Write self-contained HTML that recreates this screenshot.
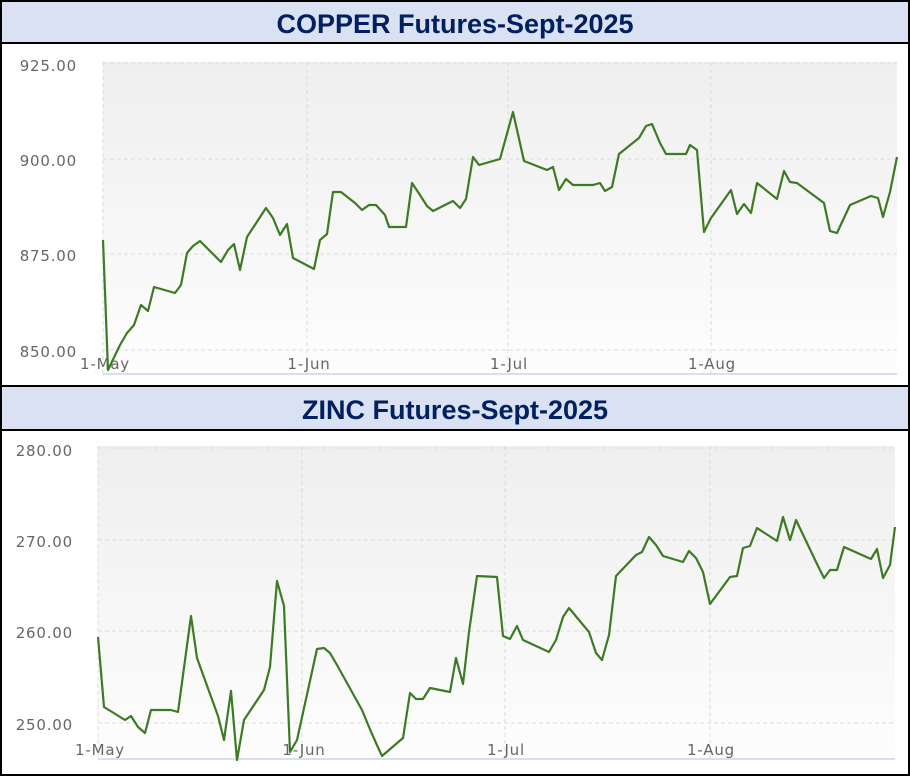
<!DOCTYPE html>
<html><head><meta charset="utf-8"><style>
html,body{margin:0;padding:0;background:#fff;}
body{width:910px;height:776px;overflow:hidden;}
svg{display:block;font-family:"Liberation Sans",sans-serif;}
.lbl{font-family:"DejaVu Sans",sans-serif;letter-spacing:0.8px;}
</style></head><body>
<svg width="910" height="776" viewBox="0 0 910 776">
<defs>
<linearGradient id="g" x1="0" y1="0" x2="0" y2="1">
<stop offset="0" stop-color="#efefef"/><stop offset="1" stop-color="#fdfdfd"/>
</linearGradient>
</defs>
<rect x="0" y="0" width="910" height="776" fill="#fff"/>
<rect x="1" y="1" width="908" height="42" fill="#d9e1f2"/>
<rect x="1" y="387" width="908" height="43" fill="#d9e1f2"/>
<text x="455" y="33" text-anchor="middle" font-size="27" font-weight="bold" fill="#002060">COPPER Futures-Sept-2025</text>
<text x="455" y="419" text-anchor="middle" font-size="27" font-weight="bold" fill="#002060">ZINC Futures-Sept-2025</text>
<line x1="0" y1="43" x2="910" y2="43" stroke="#000" stroke-width="2"/>
<line x1="0" y1="386" x2="910" y2="386" stroke="#000" stroke-width="2"/>
<line x1="0" y1="430" x2="910" y2="430" stroke="#000" stroke-width="2"/>
<rect x="1" y="1" width="908" height="774" fill="none" stroke="#000" stroke-width="2"/>

<rect x="103" y="62" width="794" height="312" fill="url(#g)"/>
<g stroke="#dcdcdc" stroke-dasharray="4,3" stroke-width="1">
<line x1="103" y1="63" x2="897" y2="63"/><line x1="103" y1="159" x2="897" y2="159"/>
<line x1="103" y1="254" x2="897" y2="254"/><line x1="103" y1="350" x2="897" y2="350"/>
<line x1="103" y1="62" x2="103" y2="374"/><line x1="307" y1="62" x2="307" y2="374"/>
<line x1="508" y1="62" x2="508" y2="374"/><line x1="711" y1="62" x2="711" y2="374"/>
</g>
<line x1="103" y1="374" x2="897" y2="374" stroke="#ccd6eb" stroke-width="1.5"/>
<g class="lbl" font-size="15" fill="#666" text-anchor="end">
<text x="77" y="71">925.00</text><text x="77" y="166">900.00</text>
<text x="77" y="261">875.00</text><text x="77" y="357">850.00</text>
</g>
<g class="lbl" font-size="15" fill="#666" text-anchor="middle">
<text x="105" y="369">1-May</text><text x="309" y="369">1-Jun</text>
<text x="509" y="369">1-Jul</text><text x="712" y="369">1-Aug</text>
</g>
<polyline fill="none" stroke="#3d7a24" stroke-width="2.2" stroke-linejoin="round" points="103,240 108,370 120,345 127,333 134,325 141,305 148,311 154,287 175,293 181,285 187,253 193,246 200,241 207,248 221,262 228,250 234,244 240,270 247,237 266,208 273,218 280,235 287,224 293,258 314,269 320,240 327,234 333,192 341,192 355,203 362,210 369,205 376,205 385,215 389,227 406,227 412,183 420,195 427,206 433,211 453,201 460,208 466,199 473,157 479,165 500,159 513,112 524,161 547,170 553,167 559,190 566,179 573,185 593,185 600,183 605,191 612,187 619,154 639,138 646,126 652,124 660,143 666,154 680,154 686,154 690,145 697,150 704,232 711,218 731,190 737,214 744,204 751,213 757,183 777,199 784,171 790,182 797,183 824,203 830,231 837,233 850,205 871,196 878,198 883,217 890,192 897,157"/>

<rect x="98" y="446" width="797" height="313" fill="url(#g)"/>
<g stroke="#dcdcdc" stroke-dasharray="4,3" stroke-width="1">
<line x1="98" y1="448" x2="895" y2="448"/><line x1="98" y1="540" x2="895" y2="540"/>
<line x1="98" y1="631" x2="895" y2="631"/><line x1="98" y1="723" x2="895" y2="723"/>
<line x1="98" y1="446" x2="98" y2="759"/><line x1="302" y1="446" x2="302" y2="759"/>
<line x1="505" y1="446" x2="505" y2="759"/><line x1="710" y1="446" x2="710" y2="759"/>
</g>
<line x1="98" y1="759" x2="895" y2="759" stroke="#ccd6eb" stroke-width="1.5"/>
<g class="lbl" font-size="15" fill="#666" text-anchor="end">
<text x="73" y="456">280.00</text><text x="73" y="547">270.00</text>
<text x="73" y="638">260.00</text><text x="73" y="730">250.00</text>
</g>
<g class="lbl" font-size="15" fill="#666" text-anchor="middle">
<text x="100" y="755">1-May</text><text x="304" y="755">1-Jun</text>
<text x="506" y="755">1-Jul</text><text x="711" y="755">1-Aug</text>
</g>
<polyline fill="none" stroke="#3d7a24" stroke-width="2.2" stroke-linejoin="round" points="98,637 104,707 125,720 131,716 138,727 145,733 151,710 171,710 178,712 191,616 197,658 218,716 224,740 231,691 237,760 244,720 264,690 270,667 277,581 284,606 290,752 297,740 317,649 324,648 330,653 337,665 362,710 369,727 376,743 382,756 403,738 410,693 416,699 423,699 430,688 450,692 456,658 463,684 469,632 477,576 497,577 503,636 510,639 517,626 523,640 549,652 556,640 563,617 569,608 589,632 596,653 602,660 609,635 616,576 636,555 642,552 649,537 656,545 663,556 683,562 689,551 696,558 703,572 710,604 730,577 737,576 743,548 750,546 757,528 777,541 783,517 790,540 796,520 817,564 824,578 830,570 837,570 844,547 871,559 877,549 883,578 890,565 895,527"/>
</svg>
</body></html>
